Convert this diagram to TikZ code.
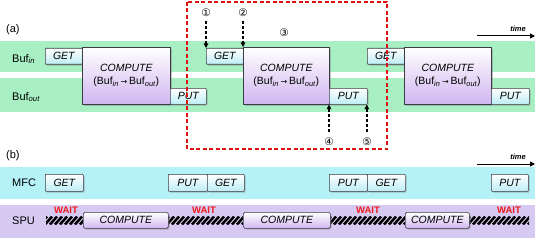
\documentclass[tikz,border=0pt]{standalone}
\usepackage{fontspec}
\setmainfont{Liberation Sans}
\newfontfamily\symf{DejaVu Sans}
\usetikzlibrary{shadows,arrows.meta}
\definecolor{bandgreen}{HTML}{A8F0C4}
\definecolor{bandcyan}{HTML}{B4F2F8}
\definecolor{bandpurple}{HTML}{D6C9F2}
\definecolor{dmabot}{HTML}{BCEDF4}
\definecolor{compbot}{HTML}{D0B6F0}
\definecolor{boxline}{HTML}{3C3C44}
\definecolor{waitred}{HTML}{F01818}
\definecolor{framered}{HTML}{E01010}
\tikzset{
  band/.style={fill=#1, draw=none},
  boxbase/.style={draw=boxline, line width=0.6pt, anchor=north west, inner sep=0pt,
    drop shadow={shadow xshift=1.3pt, shadow yshift=-1.3pt, opacity=0.45}},
  dma/.style={boxbase, rounded corners=0.8pt, top color=white, bottom color=dmabot,
    font=\fontsize{10.5}{12}\selectfont\itshape},
  comp/.style={boxbase, top color=white, bottom color=compbot,
    font=\fontsize{10.5}{13}\selectfont, align=center},
  spucomp/.style={boxbase, rounded corners=1.5pt, top color=white, bottom color=compbot,
    font=\fontsize{10.5}{12}\selectfont\itshape},
  rowlabel/.style={anchor=west, font=\fontsize{11}{12}\selectfont, inner sep=0pt},
  circnum/.style={font=\symf\fontsize{10.5}{11}\selectfont, inner sep=0pt},
  marker/.style={line width=1.4pt, dash pattern=on 3pt off 2pt, -{Triangle[width=4.5pt,length=4.5pt]}},
  timearrow/.style={line width=1pt, -{Triangle[width=5pt,length=5pt]}},
  timelabel/.style={font=\fontsize{7.5}{9}\selectfont\itshape\bfseries, inner sep=0pt},
  waitlabel/.style={font=\fontsize{9.5}{10}\selectfont\bfseries, text=waitred, inner sep=0pt},
  redframe/.style={draw=framered, line width=1.6pt, dash pattern=on 4pt off 2.5pt},
}
\newcommand\mybox[7]{\node[#2, minimum width={(#5-#3)*1pt}, minimum height={(#6-#4)*1pt}] (#1) at (#3,#4) {#7};}
\newcommand\myhatch[2]{%
  \begin{scope}
    \clip (#1,224) rectangle (#2,216.5);
    \foreach \i in {0,...,20} {\draw[line width=2.5pt] ({#1+\i*5-6},224.5) -- ++(7,-8);}
  \end{scope}}
\newcommand\bufl[1]{Buf\textsubscript{\itshape #1}}
\begin{document}
\begin{tikzpicture}[x=1pt,y=-1pt]
\useasboundingbox (0,0) rectangle (535,238);
% bands
\fill[band=bandgreen] (0,41) rectangle (535,72);
\fill[band=bandgreen] (0,78) rectangle (535,112);
\fill[band=bandcyan] (0,167) rectangle (535,199);
\fill[band=bandpurple] (0,205) rectangle (535,238);
% (a)
\node[rowlabel] (la) at (6,30) {(a)};
\node[rowlabel] (lbin) at (12,59) {\bufl{in}};
\node[rowlabel] (lbout) at (12,97) {\bufl{out}};
\mybox{get1}{dma}{45}{48}{82}{64}{GET}
\mybox{comp1}{comp}{82}{47}{170}{104}{\itshape COMPUTE\\(\bufl{in}\,{\symf\fontsize{8}{10}\selectfont →}\,\bufl{out})}
\mybox{put1}{dma}{170}{88}{206}{104}{PUT}
\mybox{get2}{dma}{206}{48}{243}{64}{GET}
\mybox{comp2}{comp}{243}{47}{329}{104}{\itshape COMPUTE\\(\bufl{in}\,{\symf\fontsize{8}{10}\selectfont →}\,\bufl{out})}
\mybox{put2}{dma}{329}{88}{367}{104}{PUT}
\mybox{get3}{dma}{367}{48}{404}{64}{GET}
\mybox{comp3}{comp}{404}{47}{491}{104}{\itshape COMPUTE\\(\bufl{in}\,{\symf\fontsize{8}{10}\selectfont →}\,\bufl{out})}
\mybox{put3}{dma}{491}{88}{529}{104}{PUT}
% red frame
\draw[redframe] (187,2) rectangle (387,149);
% markers
\node[circnum] (n1) at (206,13) {①};
\node[circnum] (n2) at (243,13) {②};
\node[circnum] (n3) at (284,33) {③};
\node[circnum] (n4) at (329,142) {④};
\node[circnum] (n5) at (367,142) {⑤};
\coordinate (m1) at (206,21);
\coordinate (m2) at (243,21);
\coordinate (m4) at (329,132);
\coordinate (m5) at (366.8,132);
\draw[marker] (m1) -- (m1 |- get2.north);
\draw[marker] (m2) -- (m2 |- comp2.north);
\draw[marker] (m4) -- (m4 |- put2.south);
\draw[marker] (m5) -- (m5 |- put2.south);
% time (a)
\coordinate (ta0) at (477,36);
\coordinate (ta1) at (535,36);
\draw[timearrow] (ta0) -- (ta1);
\node[timelabel] (tla) at (518,29) {time};
% (b)
\node[rowlabel] (lb) at (6,156) {(b)};
\node[rowlabel] (lmfc) at (12,183) {MFC};
\node[rowlabel] (lspu) at (12,221) {SPU};
\coordinate (tb0) at (477,164);
\coordinate (tb1) at (535,164);
\draw[timearrow] (tb0) -- (tb1);
\node[timelabel] (tlb) at (518,157) {time};
\mybox{bget1}{dma}{45}{174}{83}{191}{GET}
\mybox{bput1}{dma}{168}{174}{207}{191}{PUT}
\mybox{bget2}{dma}{207}{174}{244}{191}{GET}
\mybox{bput2}{dma}{329}{174}{367}{191}{PUT}
\mybox{bget3}{dma}{367}{174}{405}{191}{GET}
\mybox{bput3}{dma}{491}{174}{528}{191}{PUT}
\myhatch{46}{83}
\myhatch{168}{243}
\myhatch{330}{405}
\myhatch{469}{529}
\mybox{scomp1}{spucomp}{83}{212}{168}{228}{COMPUTE}
\mybox{scomp2}{spucomp}{243}{212}{330}{228}{COMPUTE}
\mybox{scomp3}{spucomp}{405}{212}{469}{228}{COMPUTE}
\node[waitlabel] (w1) at (66,210.5) {WAIT};
\node[waitlabel] (w2) at (204,210.5) {WAIT};
\node[waitlabel] (w3) at (368,210.5) {WAIT};
\node[waitlabel] (w4) at (509,210.5) {WAIT};
\end{tikzpicture}
\end{document}
